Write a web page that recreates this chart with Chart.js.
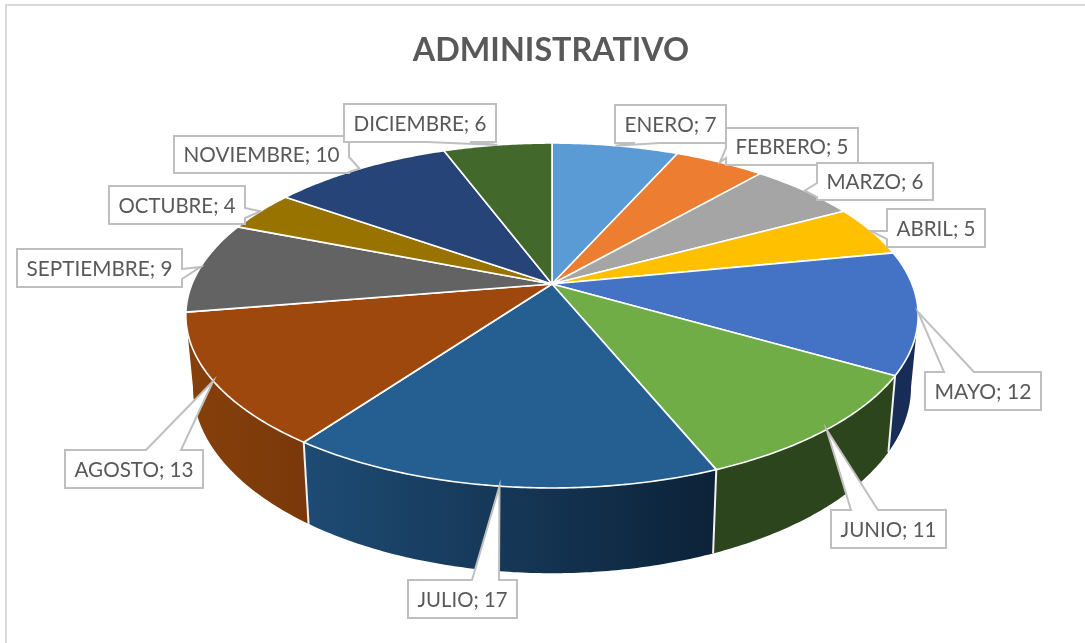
<!DOCTYPE html>
<html>
<head>
<meta charset="utf-8">
<style>html,body{margin:0;padding:0;background:#fff}canvas{display:block}</style>
<script src="https://cdn.jsdelivr.net/npm/chart.js@4"></script>
</head>
<body>
<div style="width:1085px;height:643px"><canvas id="c" width="1085" height="643"></canvas></div>
<script>
const months = ['ENERO','FEBRERO','MARZO','ABRIL','MAYO','JUNIO','JULIO','AGOSTO','SEPTIEMBRE','OCTUBRE','NOVIEMBRE','DICIEMBRE'];
const counts = [7,5,6,5,12,11,17,13,9,4,10,6];
const topColors = ['#5b9bd5','#ed7d31','#a5a5a5','#ffc000','#4472c4','#70ad47','#255e91','#9e480e','#636363','#997300','#264478','#43682b'];
const wallLeft  = ['#2e4e6b','#773f19','#535353','#806000','#172c56','#2d451c','#1e4b74','#85400b','#323232','#4d3a00','#131f3c','#223416'];
const wallRight = ['#2e4e6b','#773f19','#535353','#806000','#172c56','#2d451c','#0c2238','#7a380a','#323232','#4d3a00','#131f3c','#223416'];

// projection of the pie plane (perspective tilt)
const VIEW = {cx:552, cy:284, rx:360, ry:166.7, k:0.1826, floorCy:353, floorRx:353, floorRy:180};
// callout boxes: x0,y0,x1,y1, side of the box the pointer leaves from, pointer base
const CALLOUTS = [
 [615,105,726,143,'b',635,660],
 [726,128,858,165,'l',148,158],
 [817,163,933,200,'l',183,197],
 [887,209,985,247,'l',231,239],
 [925,372,1041,410,'t',944,974],
 [831,510,946,548,'t',851,878],
 [408,580,517,618,'t',472,499],
 [65,450,203,488,'t',146,181],
 [17,249,182,287,'r',269,279],
 [109,186,245,224,'r',208,218],
 [174,136,349,173,'r',157,172],
 [344,104,496,142,'b',427,470]
];

function rim(a){
  const u=Math.cos(a),v=Math.sin(a),w=1-VIEW.k*v;
  return [VIEW.cx+VIEW.rx*u/w, VIEW.cy+VIEW.ry*v/w];
}
function floorRim(a){
  const u=Math.cos(a),v=Math.sin(a),w=1-VIEW.k*v;
  return [VIEW.cx+VIEW.floorRx*u/w, VIEW.floorCy+VIEW.floorRy*v/w];
}
function samples(s,e){
  const n=Math.max(8,Math.ceil((e-s)/0.01)),out=[];
  for(let i=0;i<=n;i++)out.push(s+(e-s)*i/n);
  return out;
}

const pie3d = {
  id:'pie3d',
  beforeDraw(chart){
    const c=chart.ctx;
    c.save();
    c.strokeStyle='#d9d9d9';c.lineWidth=2;
    c.beginPath();c.moveTo(6,643);c.lineTo(6,5);c.lineTo(1085,5);c.stroke();
    c.restore();
  },
  beforeDatasetDraw(){return false;},
  afterDatasetsDraw(chart){
    const c=chart.ctx,arcs=chart.getDatasetMeta(0).data;
    c.save();
    // side walls: only the part of the rim that faces the viewer
    const frontStart=Math.asin(VIEW.k),frontEnd=Math.PI-frontStart;
    arcs.forEach((arc,i)=>{
      const s=Math.max(arc.startAngle,frontStart),e=Math.min(arc.endAngle,frontEnd);
      if(s>=e)return;
      const pts=samples(s,e);
      const t=pts.map(rim),f=pts.map(floorRim).reverse();
      const xs=t.concat(f).map(p=>p[0]);
      const g=c.createLinearGradient(Math.min(...xs),0,Math.max(...xs),0);
      g.addColorStop(0,wallLeft[i]);g.addColorStop(1,wallRight[i]);
      c.beginPath();
      t.concat(f).forEach((p,j)=>j?c.lineTo(p[0],p[1]):c.moveTo(p[0],p[1]));
      c.closePath();
      c.fillStyle=g;c.fill();
    });
    // seams between walls
    c.strokeStyle='#f2f2f2';c.lineWidth=2;
    arcs.forEach(arc=>{
      if(arc.endAngle>frontStart&&arc.endAngle<frontEnd){
        const a=rim(arc.endAngle),b=floorRim(arc.endAngle);
        c.beginPath();c.moveTo(a[0],a[1]);c.lineTo(b[0],b[1]);c.stroke();
      }
    });
    // top face
    c.lineJoin='round';
    arcs.forEach((arc,i)=>{
      c.beginPath();c.moveTo(VIEW.cx,VIEW.cy);
      samples(arc.startAngle,arc.endAngle).map(rim).forEach(p=>c.lineTo(p[0],p[1]));
      c.closePath();
      c.fillStyle=topColors[i];c.fill();
      c.strokeStyle='#ffffff';c.lineWidth=1.6;c.stroke();
    });
    // callouts
    c.lineJoin='miter';
    arcs.forEach((arc,i)=>{
      const b=CALLOUTS[i],[x0,y0,x1,y1,side,p,q]=b;
      const tip=rim((arc.startAngle+arc.endAngle)/2);
      c.beginPath();c.moveTo(x0,y0);
      if(side==='t'){c.lineTo(p,y0);c.lineTo(tip[0],tip[1]);c.lineTo(q,y0);}
      c.lineTo(x1,y0);
      if(side==='r'){c.lineTo(x1,p);c.lineTo(tip[0],tip[1]);c.lineTo(x1,q);}
      c.lineTo(x1,y1);
      if(side==='b'){c.lineTo(q,y1);c.lineTo(tip[0],tip[1]);c.lineTo(p,y1);}
      c.lineTo(x0,y1);
      if(side==='l'){c.lineTo(x0,q);c.lineTo(tip[0],tip[1]);c.lineTo(x0,p);}
      c.closePath();
      c.fillStyle='#ffffff';c.fill();
      c.strokeStyle='#bfbfbf';c.lineWidth=2;c.stroke();
      c.fillStyle='#595959';
      c.font='21.5px Lato';c.textAlign='center';c.textBaseline='middle';
      c.fillText(months[i]+'; '+counts[i],(x0+x1)/2,(y0+y1)/2+1,x1-x0-19);
    });
    c.restore();
  }
};

new Chart(document.getElementById('c'),{
  type:'pie',
  data:{labels:months,datasets:[{data:counts,backgroundColor:topColors,borderColor:'#ffffff'}]},
  options:{
    responsive:false,
    animation:false,
    rotation:0,
    layout:{padding:{left:17}},
    plugins:{
      legend:{display:false},
      tooltip:{enabled:false},
      title:{display:true,text:'ADMINISTRATIVO',color:'#595959',
        font:{family:'Lato',size:32.3,weight:'bold'},
        padding:{top:31,bottom:10}}
    }
  },
  plugins:[pie3d]
});
</script>
</body>
</html>
